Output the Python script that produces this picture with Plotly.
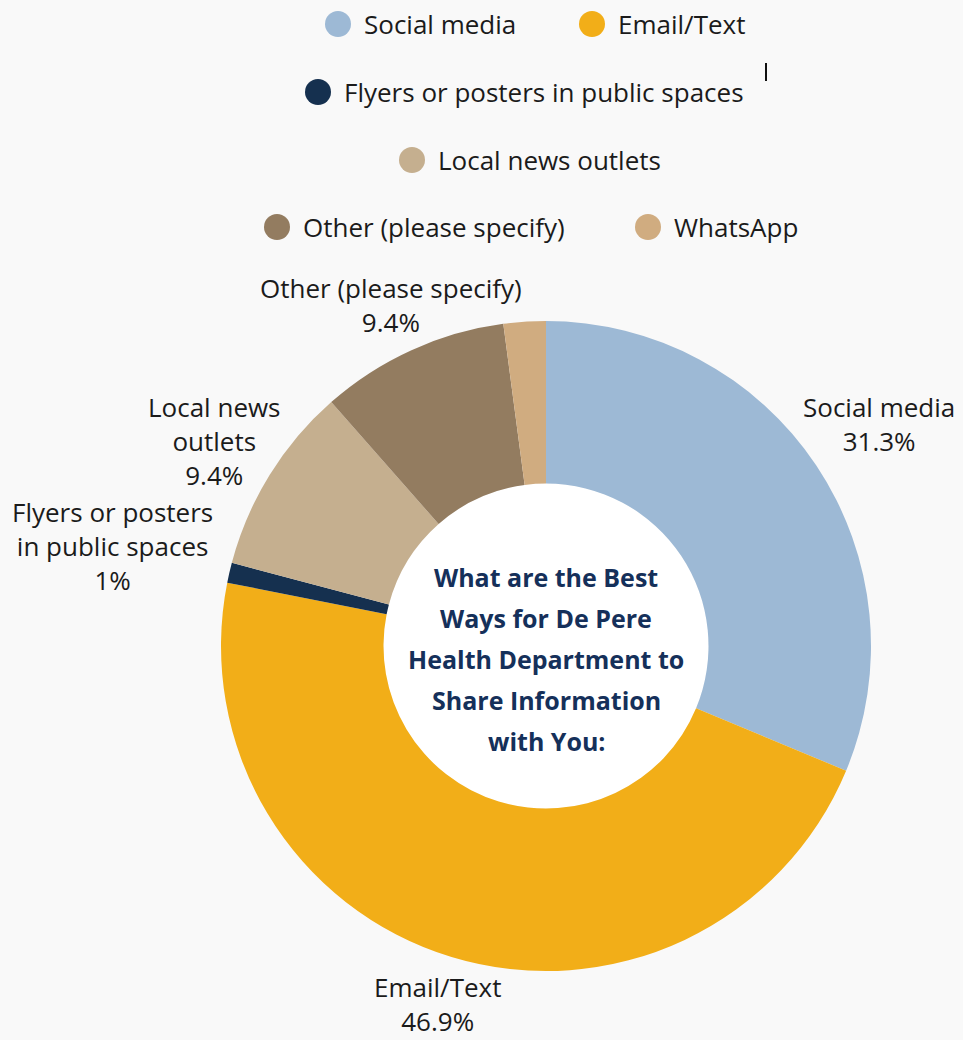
import math
import plotly.graph_objects as go

categories = ["Social media", "Email/Text", "Flyers or posters in public spaces",
              "Local news outlets", "Other (please specify)", "WhatsApp"]
display_labels = ["Social media", "Email/Text", "Flyers or posters<br>in public spaces",
                  "Local news<br>outlets", "Other (please specify)", ""]
values = [31.3, 46.9, 1.0, 9.4, 9.4, 2.1]
colors = ["#9DB9D5", "#F2AE18", "#15304F", "#C5AF8F", "#937C60", "#D0AC80"]
title_lines = ["What are the Best", "Ways for De Pere", "Health Department to",
               "Share Information", "with You:"]

W, H = 963, 1040
CX, CY, R = 546, 646, 325          # pixel centre / outer radius
HOLE = 0.5
FONT = "'Open Sans', sans-serif"
TXT = "#1b1b1b"
FS = 26

def px(x):
    return x / W

def py(y):
    return 1 - y / H

fig = go.Figure()
fig.add_trace(go.Pie(
    labels=categories, values=values, sort=False, direction="clockwise",
    rotation=0, hole=HOLE, marker=dict(colors=colors, line=dict(width=0)),
    textinfo="none", showlegend=False, hoverinfo="label+value",
    domain=dict(x=[px(CX - R), px(CX + R)], y=[py(CY + R), py(CY - R)]),
))

# white centre disc
fig.add_shape(type="circle", xref="paper", yref="paper", layer="below",
              x0=px(CX - R * HOLE), x1=px(CX + R * HOLE),
              y0=py(CY + R * HOLE), y1=py(CY - R * HOLE),
              fillcolor="white", line=dict(width=0))

# slice labels positioned from slice mid-angles
label_radius = [400, 374, 445, 390, 375, 390]
total = sum(values)
cum = 0
for i, v in enumerate(values):
    mid = (cum + v / 2) / total * 2 * math.pi
    cum += v
    if not display_labels[i]:
        continue
    r = label_radius[i]
    x = CX + r * math.sin(mid)
    y = CY - r * math.cos(mid)
    fig.add_annotation(xref="paper", yref="paper", x=px(x), y=py(y),
                       text=f"{display_labels[i]}<br>{v:g}%", showarrow=False,
                       xanchor="center", yanchor="middle", align="center",
                       font=dict(family=FONT, size=FS, color=TXT))

# centre title, one annotation per line for wider line spacing
for k, line in enumerate(title_lines):
    fig.add_annotation(xref="paper", yref="paper", x=px(CX), y=py(577 + 41 * k),
                       text=line, showarrow=False, xanchor="center", yanchor="middle",
                       font=dict(family=FONT, size=25, color="#15305A", weight="bold"))

# legend (manual, wrapped like the reference)
legend_pos = [(338, 24), (592, 24), (318, 92), (412, 160), (277, 227), (648, 227)]
legend_text_dx = 24
for (lx, ly), name, col in zip(legend_pos, categories, colors):
    rr = 13
    fig.add_shape(type="circle", xref="paper", yref="paper",
                  x0=px(lx - rr), x1=px(lx + rr), y0=py(ly + rr), y1=py(ly - rr),
                  fillcolor=col, line=dict(width=0))
    fig.add_annotation(xref="paper", yref="paper", x=px(lx + legend_text_dx), y=py(ly),
                       text=name, showarrow=False, xanchor="left", yanchor="middle",
                       font=dict(family=FONT, size=FS, color=TXT))

# small cursor mark seen in the reference
fig.add_shape(type="line", xref="paper", yref="paper",
              x0=px(766), x1=px(766), y0=py(63), y1=py(81),
              line=dict(color="#111111", width=2))

fig.update_layout(width=W, height=H, margin=dict(l=0, r=0, t=0, b=0),
                  paper_bgcolor="#F9F9F9", plot_bgcolor="#F9F9F9")
fig.write_html("out.html")
